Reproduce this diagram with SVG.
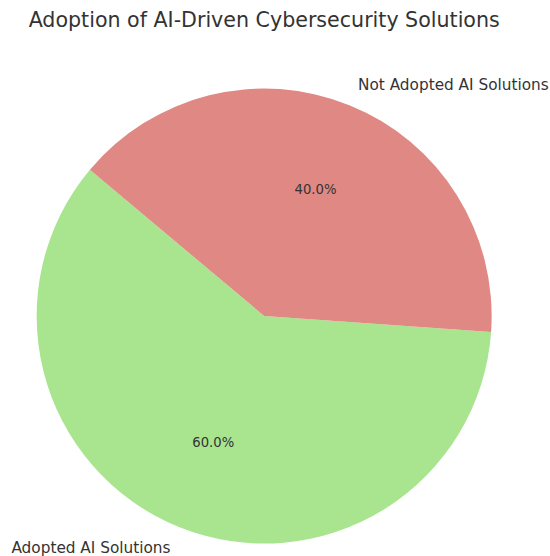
<svg xmlns="http://www.w3.org/2000/svg" width="550" height="556" viewBox="0 0 550 556">
  <style>
    text { font-family: "DejaVu Sans", "Liberation Sans", sans-serif; fill: #333333; }
    .title { font-size: 20.6px; text-anchor: middle; }
    .label { font-size: 15.3px; }
    .pct { font-size: 13.2px; text-anchor: middle; }
  </style>
  <rect width="550" height="556" fill="#ffffff"/>
  <text class="title" x="264.2" y="26.5">Adoption of AI-Driven Cybersecurity Solutions</text>
  <g id="connectors"/>
  <!-- pie centre (264.2, 316), radius 227.5; first wedge starts at 140 degrees -->
  <g id="slice-adopted">
    <path d="M264.2,316 L89.9,169.8 A227.5,227.5 0 1 0 491.1,331.9 Z" fill="#a9e48f"/>
    <text class="label" x="170.5" y="552.7" text-anchor="end">Adopted AI Solutions</text>
    <text class="pct" x="213.3" y="447.3">60.0%</text>
  </g>
  <g id="slice-not-adopted">
    <path d="M264.2,316 L491.1,331.9 A227.5,227.5 0 0 0 89.9,169.8 Z" fill="#e08883"/>
    <text class="label" x="358" y="90" text-anchor="start">Not Adopted AI Solutions</text>
    <text class="pct" x="315.5" y="194">40.0%</text>
  </g>
</svg>
